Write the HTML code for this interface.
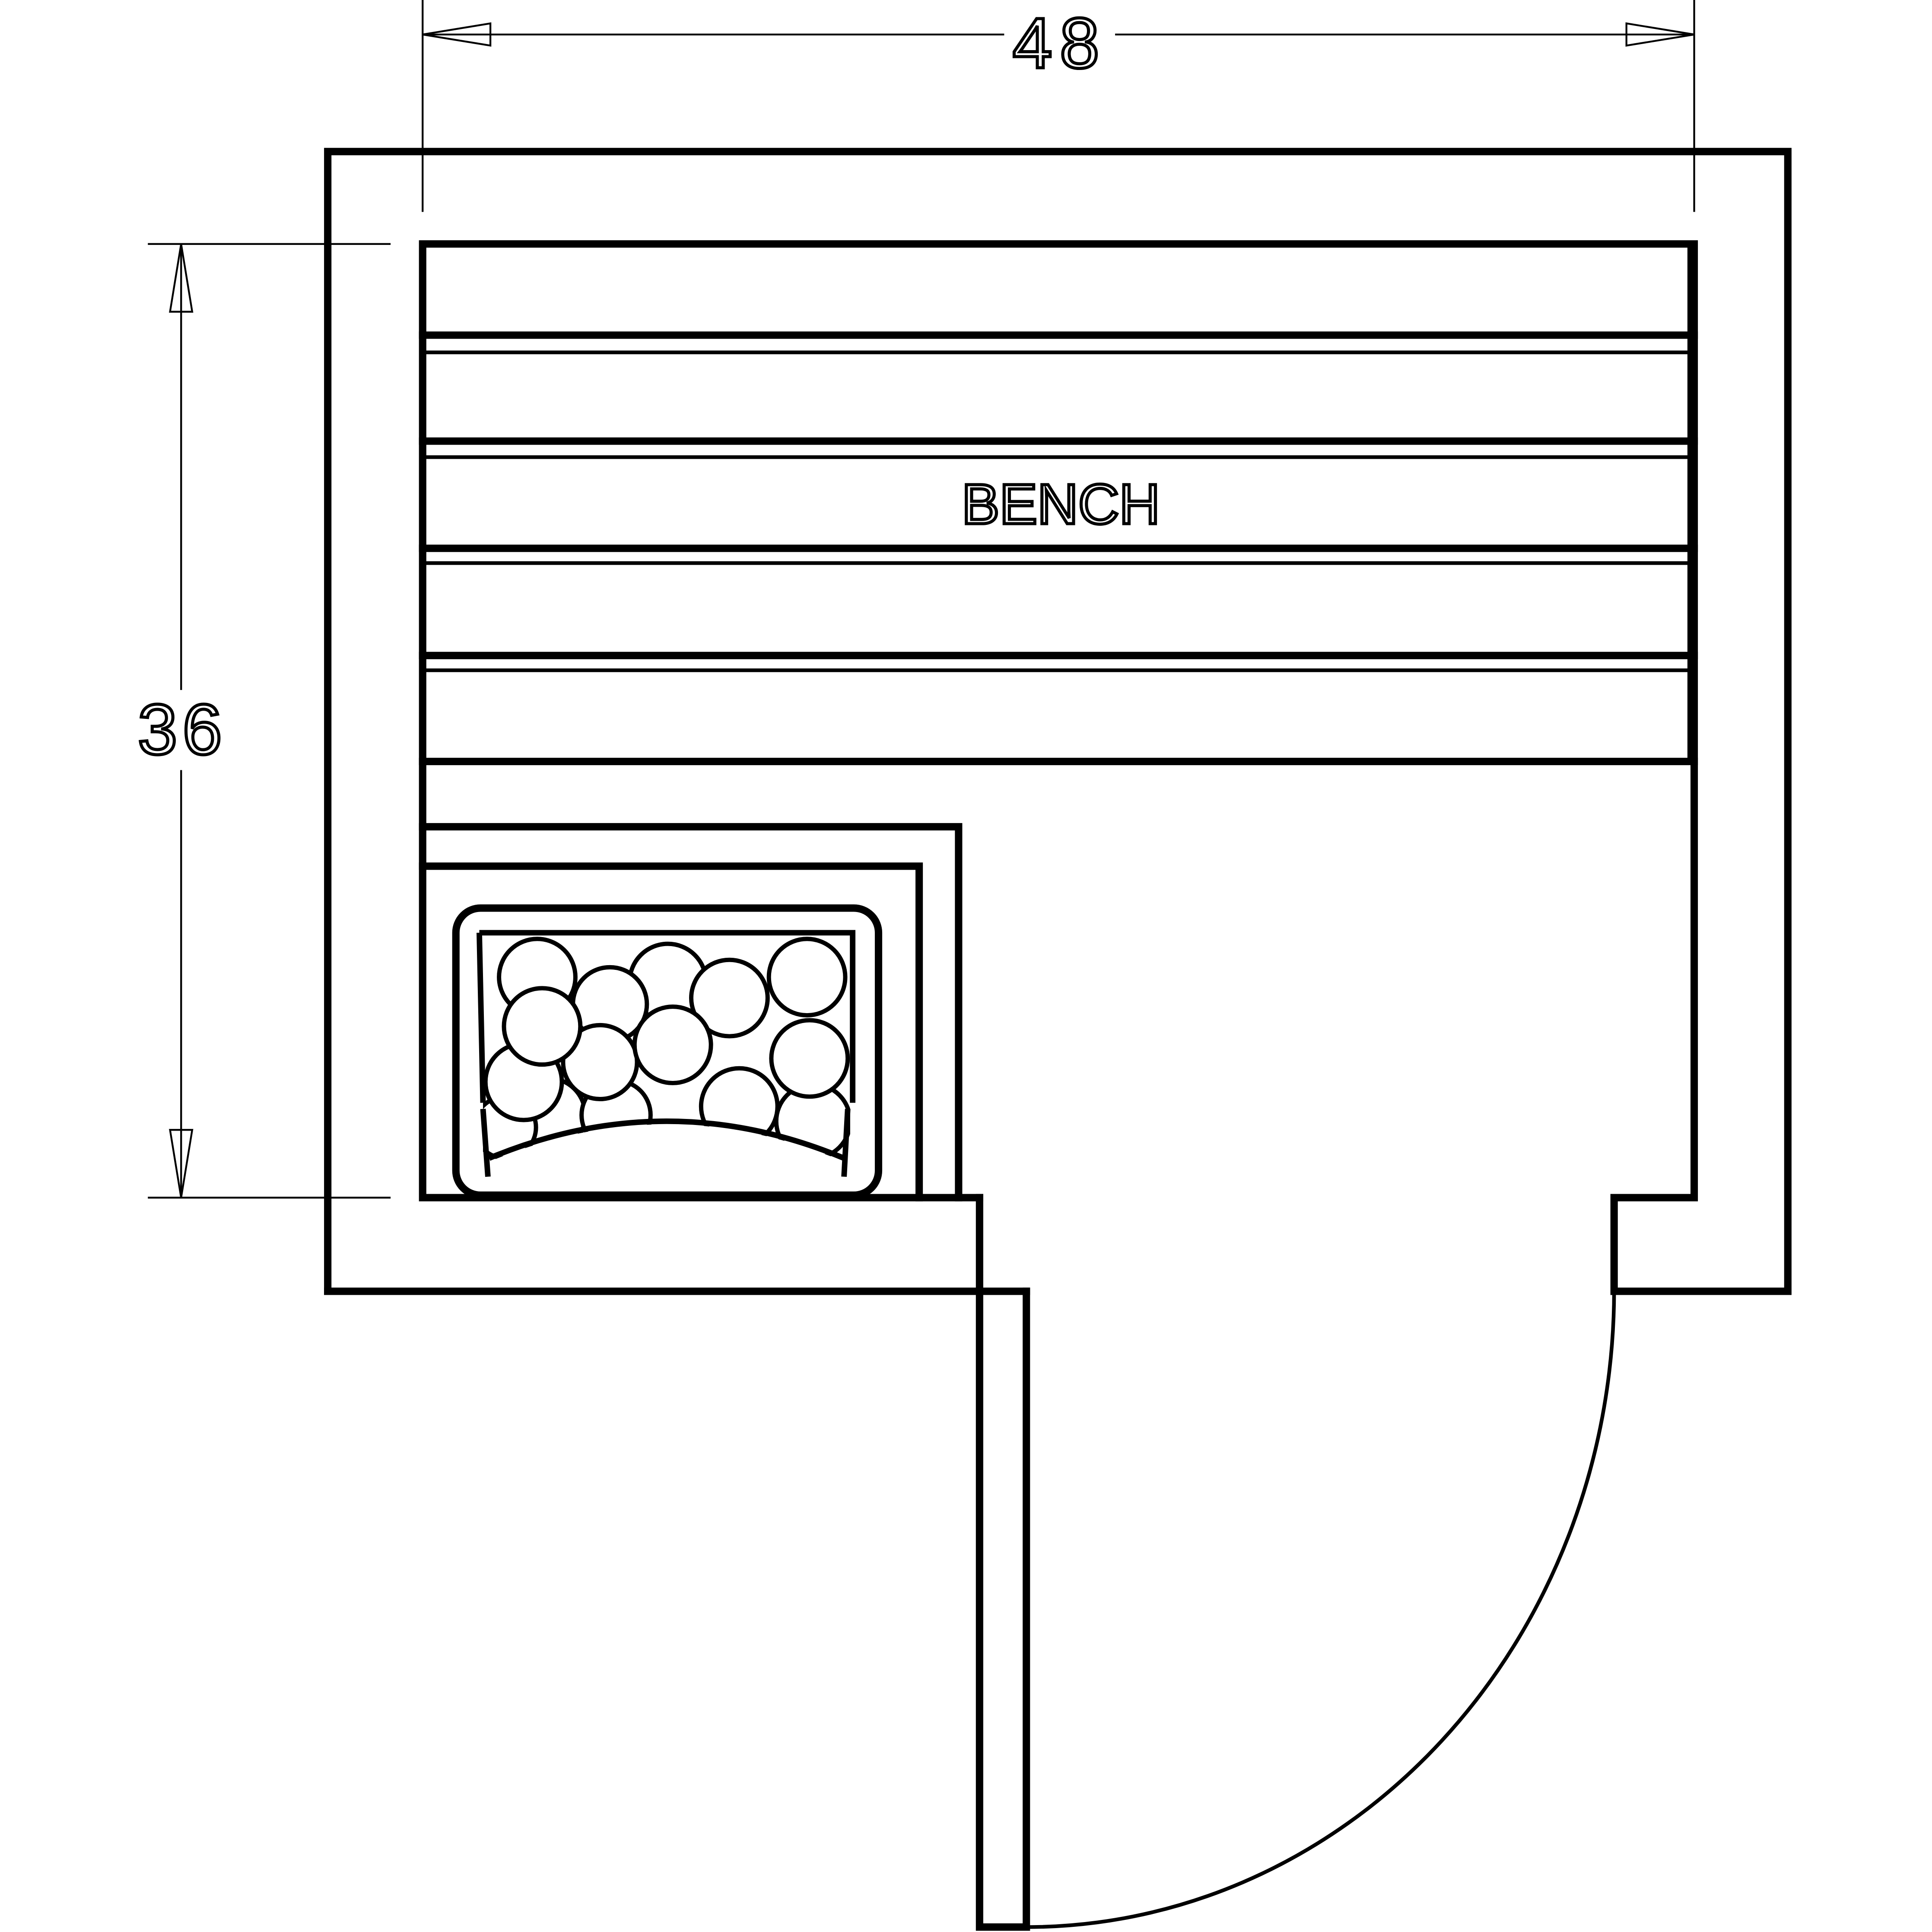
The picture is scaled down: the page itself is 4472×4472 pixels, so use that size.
<!DOCTYPE html>
<html><head><style>html,body{margin:0;padding:0;background:#fff}svg{display:block}</style></head>
<body>
<svg width="4472" height="4472" viewBox="0 0 1568 1568" xmlns="http://www.w3.org/2000/svg">
<rect width="1568" height="1568" fill="#fff"/>
<g fill="none" stroke="#000" stroke-width="6" stroke-linecap="square">
<path d="M266 1048 V123 H1451 V1048 H1310 V972 H1375 V198 H343 V972 H795"/>
<path d="M266 1048 H833"/>
<path d="M795 972 V1564 H833 V1048"/>
<path d="M343 272 H1375 M343 358 H1375 M343 445 H1375 M343 532 H1375 M343 618 H1375"/>
<path d="M343 671 H778 V972 M343 703 H746 V972"/>
<rect x="370" y="737" width="343" height="233" rx="20"/>
</g>
<g fill="none" stroke="#000" stroke-width="3">
<path d="M345 286 H1371 M345 371 H1371 M345 457 H1371 M345 544 H1371"/>
<path d="M1371 200 V618"/>
<path d="M833 1564 A477 517 0 0 0 1310 1048"/>
</g>
<clipPath id="c"><rect x="392" y="759" width="298" height="200"/></clipPath>
<g clip-path="url(#c)" fill="#fff" stroke="#000" stroke-width="3.5">
<circle cx="445" cy="905" r="30"/><circle cx="500" cy="905" r="28"/><circle cx="660" cy="910" r="30"/><circle cx="410" cy="915" r="25"/>
<circle cx="436" cy="793" r="31"/><circle cx="542" cy="797" r="31"/><circle cx="592" cy="810" r="31"/><circle cx="655" cy="793" r="31"/>
<circle cx="495" cy="815" r="30"/><circle cx="487" cy="862" r="30"/><circle cx="546" cy="848" r="31"/>
<circle cx="425" cy="878" r="31"/><circle cx="600" cy="898" r="31"/><circle cx="657" cy="859" r="31"/><circle cx="440" cy="833" r="31"/>
<path d="M392 945 Q541 880 690 945 V965 H392 Z" stroke="none"/>
</g>
<g fill="none" stroke="#000" stroke-width="4.5">
<path d="M389 757 H692 V895"/><path d="M389 757 L392 895"/>
<path d="M397 940 Q541 880 685 940"/>
<path d="M392 900 L396 955 M688 900 L685 955"/>
</g>
<text x="861" y="425" font-family="Liberation Sans, sans-serif" font-size="46" text-anchor="middle" fill="#fff" stroke="#000" stroke-width="2.5">BENCH</text>
<g fill="none" stroke="#000" stroke-width="1.5">
<path d="M343 0 V172 M1375 0 V172"/>
<path d="M343 28 H815 M905 28 H1375"/>
<path d="M343 28 L398 19 V37 Z M1375 28 L1320 19 V37 Z"/>
<path d="M120 198 H317 M120 972 H317"/>
<path d="M147 198 V560 M147 625 V972"/>
<path d="M147 198 L138 253 H156 Z M147 972 L138 917 H156 Z"/>
</g>
<text x="860" y="55" font-family="Liberation Sans, sans-serif" font-size="58" text-anchor="middle" fill="#fff" stroke="#000" stroke-width="2.5" letter-spacing="6">48</text>
<text x="148" y="612" font-family="Liberation Sans, sans-serif" font-size="58" text-anchor="middle" fill="#fff" stroke="#000" stroke-width="2.5" letter-spacing="4">36</text>
</svg>
</body></html>
